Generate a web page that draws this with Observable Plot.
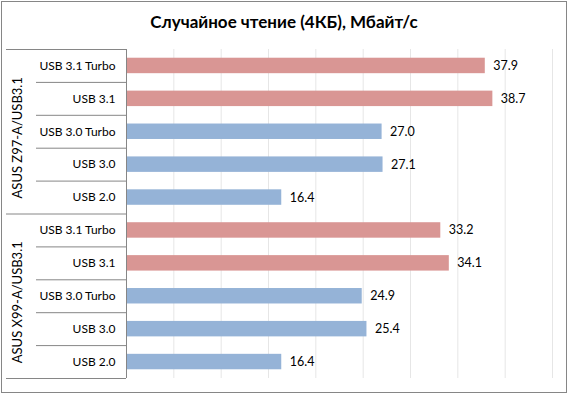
<!DOCTYPE html>
<html>
<head>
<meta charset="utf-8">
<script src="https://cdn.jsdelivr.net/npm/d3@7"></script>
<script src="https://cdn.jsdelivr.net/npm/@observablehq/plot@0.6"></script>
<style>
  body { margin: 0; background: #fff; }
  #wrap { position: relative; width: 568px; height: 394px; overflow: hidden; background: #fff; font-family: Lato, "Open Sans", sans-serif; }
  #title { position: absolute; top: 0; left: 0; width: 568px; height: 40px; text-align: center; font: bold 17px Lato, sans-serif; line-height: 20px; padding-top: 12px; box-sizing: border-box; color: #000; }
  #chart { position: absolute; top: 40px; left: 0; }
  #border { position: absolute; left: 1px; top: 1px; width: 566px; height: 392px; box-sizing: border-box; border: 1px solid #868686; pointer-events: none; }
</style>
</head>
<body>
<div id="wrap">
  <div id="title">Случайное чтение (4КБ), Мбайт/с</div>
  <div id="chart"></div>
  <div id="border"></div>
</div>
<script>
const groups = ["ASUS Z97-A/USB3.1", "ASUS X99-A/USB3.1"];
const categories = ["USB 3.1 Turbo", "USB 3.1", "USB 3.0 Turbo", "USB 3.0", "USB 2.0"];
const z97Values = [37.9, 38.7, 27.0, 27.1, 16.4];
const x99Values = [33.2, 34.1, 24.9, 25.4, 16.4];
const xTicks = [5, 10, 15, 20, 25, 30, 35, 40, 45];

const seriesValues = [z97Values, x99Values];
const rows = groups.flatMap((g, gi) => categories.map((c, ci) => ({
  group: g, cat: c, value: seriesValues[gi][ci], row: gi * categories.length + ci
})));
const groupRows = groups.map((g, gi) => ({group: g, center: gi * categories.length + categories.length / 2}));
const nRows = rows.length;
const catBounds = d3.range(1, nRows).filter(i => i % categories.length !== 0);
const groupBounds = d3.range(0, nRows + 1, categories.length);

const RED = "#d99694", BLUE = "#95b3d7", AXIS = "#868686";
const W = 568, ML = 126, MR = 16;
const plotW = W - ML - MR;

const chart = Plot.plot({
  width: W,
  height: 354,
  marginTop: 9,
  marginBottom: 16,
  marginLeft: ML,
  marginRight: MR,
  style: {fontFamily: "Lato, sans-serif", fontSize: "12px", color: "#000", background: "transparent"},
  x: {domain: [0, 45], axis: null},
  y: {domain: [0, nRows], reverse: true, axis: null},
  marks: [
    Plot.ruleX(xTicks, {x: d => d, y1: 0, y2: nRows, stroke: "#e6e6e6", strokeWidth: 1}),
    Plot.rectX(rows, {
      x1: 0, x2: "value",
      y1: d => d.row + 0.265, y2: d => d.row + 0.735,
      fill: d => d.cat.includes("3.1") ? RED : BLUE
    }),
    Plot.text(rows, {
      x: "value", y: d => d.row + 0.5, text: d => d.value.toFixed(1),
      textAnchor: "start", dx: 8, fill: "#000", fontSize: 12.5
    }),
    Plot.text(rows, {
      x: 0, y: d => d.row + 0.5, text: "cat",
      textAnchor: "end", dx: -11, fill: "#000"
    }),
    Plot.ruleY(catBounds, {y: d => d, stroke: AXIS, insetLeft: -90, insetRight: plotW}),
    Plot.ruleY(groupBounds, {y: d => d, stroke: AXIS, insetLeft: -120, insetRight: plotW}),
    Plot.ruleX([0], {x: d => d, y1: 0, y2: nRows, stroke: AXIS}),
    Plot.text(groupRows, {
      x: 0, y: "center", text: "group", rotate: -90,
      dx: -109, dy: 6, fill: "#000", fontSize: 13
    })
  ]
});
document.getElementById("chart").appendChild(chart);
</script>
</body>
</html>
